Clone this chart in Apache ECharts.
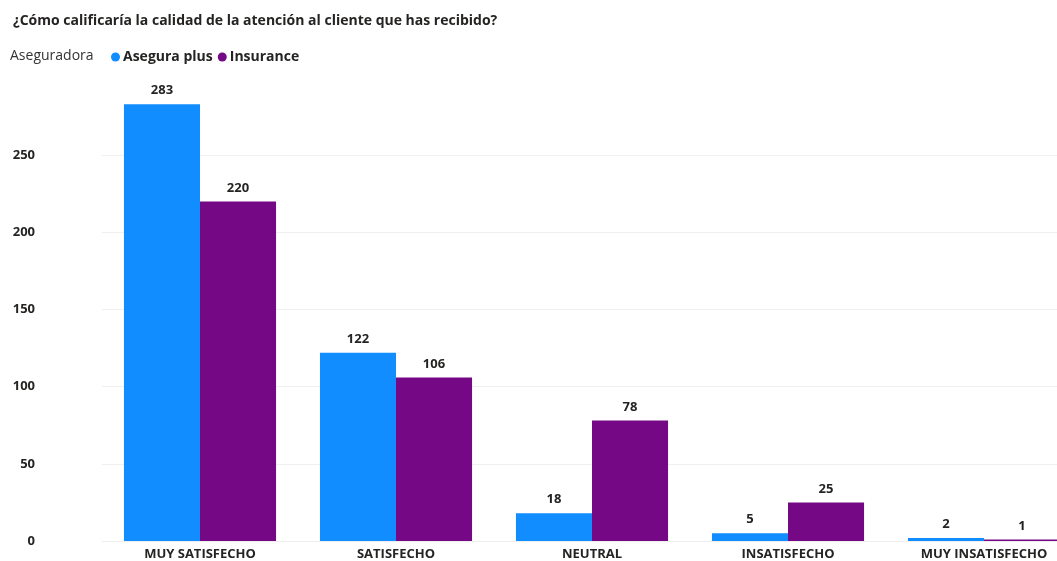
<!DOCTYPE html>
<html>
<head>
<meta charset="utf-8">
<title>Calidad de la atención</title>
<script src="https://cdn.jsdelivr.net/npm/echarts@6/dist/echarts.min.js"></script>
<style>
  html, body { margin: 0; padding: 0; background: #fff; }
  #main { width: 1057px; height: 561px; }
</style>
</head>
<body>
<div id="main"></div>
<script>
  // datos
  var categorias = ['MUY SATISFECHO', 'SATISFECHO', 'NEUTRAL', 'INSATISFECHO', 'MUY INSATISFECHO'];
  var aseguraPlus = [283, 122, 18, 5, 2];
  var insurance = [220, 106, 78, 25, 1];

  var fuente = 'Open Sans';
  var myChart = echarts.init(document.getElementById('main'));
  var option = {
    animation: false,
    textStyle: { fontFamily: fuente },
    title: [{
      text: '¿Cómo calificaría la calidad de la atención al cliente que has recibido?',
      left: 8, top: 9,
      textStyle: { fontSize: 14, fontWeight: 'bold', color: '#252423', fontFamily: fuente }
    }, {
      text: 'Aseguradora',
      left: 5, top: 44,
      textStyle: { fontSize: 14, fontWeight: 'normal', color: '#333', fontFamily: fuente }
    }],
    legend: {
      left: 106, top: 45,
      icon: 'circle', itemWidth: 9, itemHeight: 9, itemGap: 5,
      textStyle: { fontSize: 14, fontWeight: 'bold', color: '#252423', padding: [0, 0, 0, -2] },
      data: ['Asegura plus', 'Insurance']
    },
    // el area del grafico sigue mas alla del borde derecho (ultima barra recortada)
    grid: { left: 102, width: 980, top: 78, bottom: 20, outerBoundsMode: 'none', containLabel: false },
    xAxis: {
      type: 'category',
      data: categorias,
      axisTick: { show: false },
      axisLine: { show: true, lineStyle: { color: '#eeeeee', width: 1 } },
      axisLabel: { fontSize: 13, fontWeight: 'bold', color: '#252423', margin: 7, interval: 0 }
    },
    yAxis: {
      type: 'value',
      min: 0, max: 300, interval: 50,
      axisLabel: {
        fontSize: 13, fontWeight: 'bold', color: '#252423', margin: 67,
        showMaxLabel: false
      },
      splitLine: { lineStyle: { color: '#f0f0f0', width: 1 }, showMaxLine: false }
    },
    series: [{
      name: 'Asegura plus',
      type: 'bar',
      data: aseguraPlus,
      barGap: 0,
      barCategoryGap: '22.4%',
      itemStyle: { color: '#118DFF' },
      label: { show: true, position: 'top', distance: 7, fontSize: 13, fontWeight: 'bold', color: '#252423' }
    }, {
      name: 'Insurance',
      type: 'bar',
      data: insurance,
      barGap: 0,
      barCategoryGap: '22.4%',
      itemStyle: { color: '#750985' },
      label: { show: true, position: 'top', distance: 7, fontSize: 13, fontWeight: 'bold', color: '#252423' }
    }]
  };
  myChart.setOption(option);
</script>
</body>
</html>
